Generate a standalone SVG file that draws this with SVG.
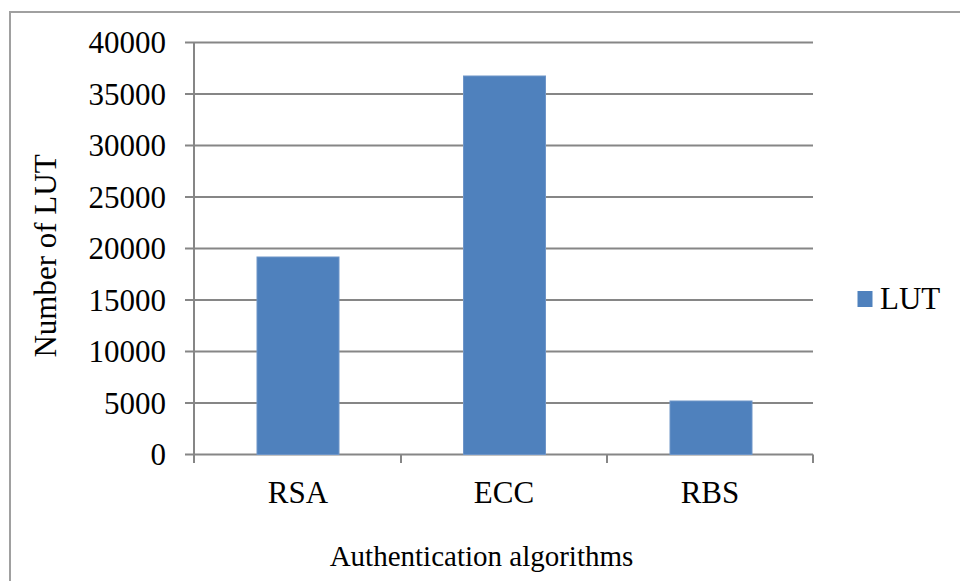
<svg xmlns="http://www.w3.org/2000/svg" width="960" height="581" viewBox="0 0 960 581">
<style>
.t{font-family:"Liberation Serif","Times New Roman",serif;font-size:31px;fill:#000}
.g{stroke:#868686;stroke-width:2;fill:none}
.bar{fill:#4F81BD;stroke:#6e95c8;stroke-width:1}
</style>
<rect x="0" y="0" width="960" height="581" fill="#fff"/>
<rect id="chart-border" x="10" y="12" width="960" height="600" fill="none" stroke="#a0a0a0" stroke-width="2"/>
<g id="gridlines" class="g">
<path d="M185 42.5H813M185 94H813M185 145.5H813M185 197H813M185 248.5H813M185 300H813M185 351.5H813M185 403H813"/>
</g>
<g id="axes" class="g">
<path d="M194 42.5V454.5M185 454.5H813M194 454.5V463M401 454.5V463M607 454.5V463M813 454.5V463"/>
</g>
<g id="ylabels" class="t" text-anchor="end">
<text x="166" y="53">40000</text>
<text x="166" y="105">35000</text>
<text x="166" y="156">30000</text>
<text x="166" y="208">25000</text>
<text x="166" y="259">20000</text>
<text x="166" y="311">15000</text>
<text x="166" y="362">10000</text>
<text x="166" y="414">5000</text>
<text x="166" y="465">0</text>
</g>
<g id="bar-RSA"><rect class="bar" x="257" y="257" width="82" height="197.5"/><text class="t" x="298" y="503" text-anchor="middle">RSA</text></g>
<g id="bar-ECC"><rect class="bar" x="463.5" y="76" width="82" height="378.5"/><text class="t" x="504" y="503" text-anchor="middle">ECC</text></g>
<g id="bar-RBS"><rect class="bar" x="670" y="401" width="82" height="53.5"/><text class="t" x="710" y="503" text-anchor="middle">RBS</text></g>
<g id="legend"><rect x="857.5" y="291" width="15" height="16" fill="#4F81BD"/><text class="t" x="880" y="309">LUT</text></g>
<text id="x-title" class="t" x="481.5" y="566" text-anchor="middle" style="font-size:29px">Authentication algorithms</text>
<text id="y-title" class="t" transform="translate(56,256) rotate(-90)" text-anchor="middle">Number of LUT</text>
</svg>
